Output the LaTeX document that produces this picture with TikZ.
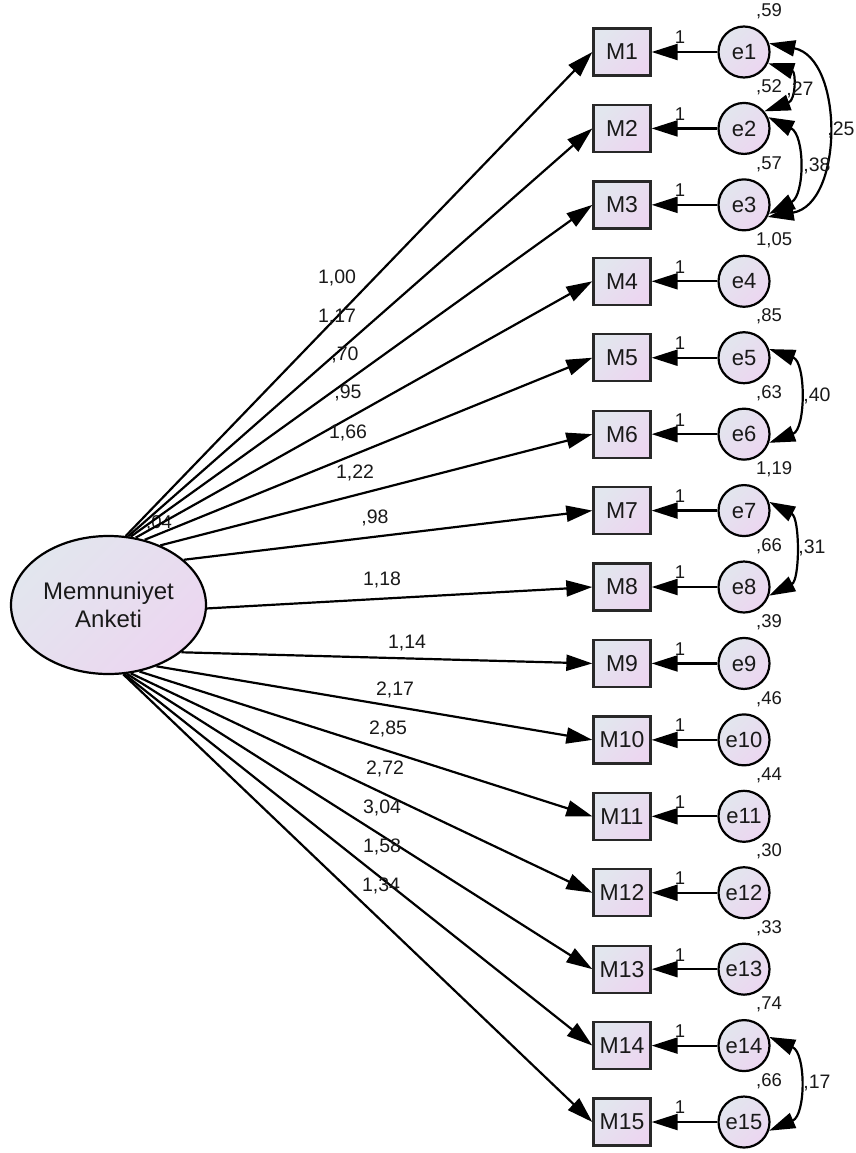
\documentclass[tikz,border=0pt]{standalone}
\usepackage{fontspec}
\setmainfont{Liberation Sans}
\usetikzlibrary{arrows.meta,shapes.geometric}
\definecolor{gA}{RGB}{226,230,238}
\definecolor{gB}{RGB}{236,214,240}
\definecolor{txt}{RGB}{25,25,25}
\definecolor{bord}{RGB}{40,40,40}
\begin{document}
\begin{tikzpicture}[x=1pt,y=-1pt,
  obs/.style={draw=bord, line width=2.3pt, minimum width=57pt, minimum height=47pt,
    top color=gA, bottom color=gB, shading angle=45, font=\fontsize{23}{27}\selectfont, text=txt, inner sep=0pt},
  err/.style={circle, draw=black, line width=2.2pt, minimum size=51pt,
    top color=gA, bottom color=gB, shading angle=45, font=\fontsize{22}{26}\selectfont, text=txt, inner sep=0pt},
  lat/.style={ellipse, draw=black, line width=2.2pt, minimum width=195pt, minimum height=138pt,
    top color=gA, bottom color=gB, shading angle=45, font=\fontsize{24}{28.5}\selectfont, text=txt, align=center, inner sep=0pt},
  reg/.style={line width=2.2pt, -{Triangle[length=26pt,width=16pt]}},
  cov/.style={line width=2.2pt, {Triangle[length=26pt,width=16pt]}-{Triangle[length=26pt,width=16pt]}},
  coef/.style={font=\fontsize{19.5}{22}\selectfont, text=txt, inner sep=0pt},
  var/.style={font=\fontsize{18.5}{21}\selectfont, text=txt, inner sep=0pt, anchor=west},
  one/.style={font=\fontsize{18.5}{20}\selectfont, text=txt, inner sep=1pt, above=6pt, pos=.57}
]
\useasboundingbox (0,0) rectangle (855,1153);

% latent
\node[lat] (L) at (108.5,605) {Memnuniyet\\Anketi};
\node[var] (vL) at (146,523) {,04};

% observed and error nodes
\foreach \i in {1,...,15} {
  \pgfmathsetmacro{\yy}{52+(\i-1)*76.43}
  \node[obs] (M\i) at (622,\yy) {M\i};
  \node[err] (e\i) at (744,\yy) {e\i};
  \draw[reg] (e\i) -- node[one]{1} (M\i);
}

% variance labels
\node[var] (v1)  at (756,11)   {,59};
\node[var] (v2)  at (756,87.4) {,52};
\node[var] (v3)  at (756,163.9){,57};
\node[var] (v4)  at (756,240.3){1,05};
\node[var] (v5)  at (756,316.7){,85};
\node[var] (v6)  at (756,393.2){,63};
\node[var] (v7)  at (756,469.6){1,19};
\node[var] (v8)  at (756,546)  {,66};
\node[var] (v9)  at (756,622.4){,39};
\node[var] (v10) at (756,698.9){,46};
\node[var] (v11) at (756,775.3){,44};
\node[var] (v12) at (756,851.7){,30};
\node[var] (v13) at (756,928.2){,33};
\node[var] (v14) at (756,1004.6){,74};
\node[var] (v15) at (756,1081){,66};

% regression paths
\draw[reg] (L.76)  -- (M1.west);
\draw[reg] (L.74)  -- (M2.west);
\draw[reg] (L.72)  -- (M3.west);
\draw[reg] (L.68)  -- (M4.west);
\draw[reg] (L.61)  -- (M5.west);
\draw[reg] (L.49)  -- (M6.west);
\draw[reg] (L.31)  -- (M7.west);
\draw[reg] (L.-2)  -- (M8.west);
\draw[reg] (L.-33) -- (M9.west);
\draw[reg] (L.-52) -- (M10.west);
\draw[reg] (L.-65) -- (M11.west);
\draw[reg] (L.-72) -- (M12.west);
\draw[reg] (L.-75) -- (M13.west);
\draw[reg] (L.-77) -- (M14.west);
\draw[reg] (L.-78) -- (M15.west);

% coefficient labels
\node[coef] (c1)  at (337,278) {1,00};
\node[coef] (c2)  at (337,317) {1,17};
\node[coef] (c3)  at (345,355) {,70};
\node[coef] (c4)  at (348,393) {,95};
\node[coef] (c5)  at (348,433) {1,66};
\node[coef] (c6)  at (355,473) {1,22};
\node[coef] (c7)  at (375,518) {,98};
\node[coef] (c8)  at (382,580) {1,18};
\node[coef] (c9)  at (407,643) {1,14};
\node[coef] (c10) at (395,690) {2,17};
\node[coef] (c11) at (388,729) {2,85};
\node[coef] (c12) at (385,769) {2,72};
\node[coef] (c13) at (382,808) {3,04};
\node[coef] (c14) at (382,847) {1,58};
\node[coef] (c15) at (381,886) {1,34};

% covariances
\draw[cov] (e1.-25) .. controls (796,72) and (796,100) .. (e2.40);
\draw[cov] (e1.19) .. controls (844,58) and (844,204) .. (e3.-27);
\draw[cov] (e2.25) .. controls (805,135) and (805,195) .. (e3.-20);
\draw[cov] (e5.19) .. controls (806,362) and (806,429) .. (e6.-19);
\draw[cov] (e7.19) .. controls (800,518) and (800,580) .. (e8.-19);
\draw[cov] (e14.19) .. controls (806,1053) and (806,1115) .. (e15.-19);

\node[coef] (k1) at (800,90)  {,27};
\node[coef] (k2) at (841,130) {,25};
\node[coef] (k3) at (817,166) {,38};
\node[coef] (k4) at (817,396) {,40};
\node[coef] (k5) at (812,548) {,31};
\node[coef] (k6) at (817,1083) {,17};
\end{tikzpicture}
\end{document}
